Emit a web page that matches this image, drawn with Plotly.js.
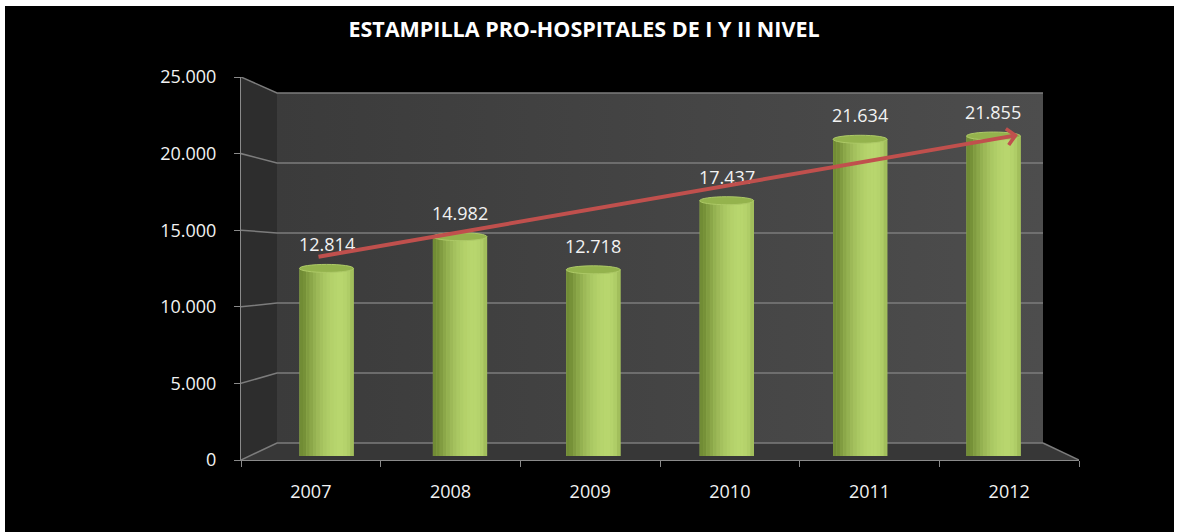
<!DOCTYPE html>
<html>
<head>
<meta charset="utf-8">
<script src="https://cdn.plot.ly/plotly-3.0.1.min.js"></script>
<style>html,body{margin:0;padding:0;background:#fff;}#chart{width:1177px;height:532px;}</style>
</head>
<body>
<div id="chart"></div>
<script>
// ---- data ----
const years = ['2007', '2008', '2009', '2010', '2011', '2012'];
const values = [12814, 14982, 12718, 17437, 21634, 21855];
const yTickValues = [0, 5000, 10000, 15000, 20000, 25000];
const chartTitle = 'ESTAMPILLA PRO-HOSPITALES DE I Y II NIVEL';

// ---- geometry (pixels) ----
const W = 1177, H = 532;
const L = 241, R = 1079, T = 77, B = 460;          // front plane (plot area)
const bL = 277, bR = 1043, bT = 93, bB = 443;      // back wall
const yMax = 25000;
const font = '"Open Sans", sans-serif';
const txtCol = '#f2f2f2';
const axCol = '#8a8a8a';

const frontY = v => B - v * (B - T) / yMax;
const backY = v => bB - v * (bB - bT) / yMax;
const px2paperX = p => (p - L) / (R - L);
const px2paperY = p => (B - p) / (B - T);

const traces = [];
// side wall
traces.push({type: 'scatter', mode: 'lines', xaxis: 'x', yaxis: 'y',
  x: [L, bL, bL, L, L], y: [T, bT, bB, B, T], fill: 'toself',
  fillcolor: '#2d2d2d', line: {width: 0}, hoverinfo: 'skip', showlegend: false, cliponaxis: false});
// back wall
traces.push({type: 'scatter', mode: 'lines', xaxis: 'x', yaxis: 'y',
  x: [bL, bR, bR, bL, bL], y: [bT, bT, bB, bB, bT], fill: 'toself',
  fillcolor: '#454545',
  fillgradient: {type: 'horizontal', colorscale: [[0, '#3b3b3b'], [1, '#4d4d4d']]},
  line: {width: 0}, hoverinfo: 'skip', showlegend: false, cliponaxis: false});
// floor
traces.push({type: 'scatter', mode: 'lines', xaxis: 'x', yaxis: 'y',
  x: [L, bL, bR, R, L], y: [B, bB, bB, B, B], fill: 'toself',
  fillcolor: '#373737', line: {width: 0}, hoverinfo: 'skip', showlegend: false, cliponaxis: false});
// gridlines (front tick -> back wall)
const gx = [], gy = [];
yTickValues.forEach(v => {
  gx.push(L, bL, bR, null);
  gy.push(frontY(v), backY(v), backY(v), null);
});
traces.push({type: 'scatter', mode: 'lines', xaxis: 'x', yaxis: 'y', x: gx, y: gy,
  line: {color: '#7c7c7c', width: 1.5}, hoverinfo: 'skip', showlegend: false, cliponaxis: false});
// floor right edge
traces.push({type: 'scatter', mode: 'lines', xaxis: 'x', yaxis: 'y', x: [bR, R], y: [bB, B],
  line: {color: '#7c7c7c', width: 1.5}, hoverinfo: 'skip', showlegend: false, cliponaxis: false});

// ---- cylinder bars (x2/y2) ----
const barW = 0.405;
const N = 16;
const dark = [98, 124, 40], light = [184, 214, 110];
function shade(t) {
  const phi = Math.asin(Math.max(-1, Math.min(1, t)));
  let f = Math.max(0, Math.cos(phi - 0.5));
  f = 0.18 + 0.82 * Math.pow(f, 1.3);
  const c = dark.map((d, k) => Math.round(d + (light[k] - d) * f));
  return 'rgb(' + c.join(',') + ')';
}
traces.push({type: 'bar', xaxis: 'x2', yaxis: 'y2', x: years, y: values, width: barW,
  marker: {color: shade(0), line: {width: 0}}, hoverinfo: 'skip', showlegend: false});
for (let k = 0; k < N; k++) {
  const t = -1 + (2 * k + 1) / N;
  traces.push({type: 'bar', xaxis: 'x2', yaxis: 'y2', x: years, y: values,
    width: barW / N + 0.002, offset: -barW / 2 + k * barW / N,
    marker: {color: shade(t), line: {width: 0}}, hoverinfo: 'skip', showlegend: false});
}

// ---- visible front axes (x3/y3) ----
traces.push({type: 'scatter', mode: 'markers', xaxis: 'x3', yaxis: 'y3', x: years, y: values,
  marker: {opacity: 0}, hoverinfo: 'skip', showlegend: false});

// bar axis mapping: bar centres and base
const bxr0 = -0.641, bxr1 = 5.641;
const byr0 = -273, byr1 = 25888;
const pxPerUnit = (B - T) / (byr1 - byr0);
const capHalf = 4 / pxPerUnit;

const shapes = [{
  type: 'rect', xref: 'paper', yref: 'paper', layer: 'below',
  x0: px2paperX(5), x1: px2paperX(1174), y0: px2paperY(6), y1: px2paperY(H + 2),
  fillcolor: '#000', line: {width: 0}
}];
values.forEach((v, i) => {
  shapes.push({type: 'circle', xref: 'x2', yref: 'y2', layer: 'above',
    x0: i - barW / 2, x1: i + barW / 2, y0: v - capHalf, y1: v + capHalf,
    fillcolor: '#94b34d', line: {color: '#adc967', width: 1}});
});

const fmt = v => String(v).replace(/\B(?=(\d{3})+(?!\d))/g, '.');
const annotations = values.map((v, i) => ({
  xref: 'x2', yref: 'y2', x: i, y: v, text: fmt(v), showarrow: false,
  yanchor: 'bottom', xanchor: 'center', yshift: 10,
  font: {family: font, size: 18, color: txtCol}
}));
// trend arrow
annotations.push({
  xref: 'x', yref: 'y', axref: 'x', ayref: 'y', x: 1018, y: 135, ax: 317, ay: 257,
  text: '', showarrow: true, arrowcolor: '#c0504d', arrowwidth: 4, arrowhead: 4,
  arrowsize: 0.8, standoff: 0, startstandoff: 0
});

const hidden = {visible: false, showgrid: false, zeroline: false, fixedrange: true};
const layout = {
  width: W, height: H,
  paper_bgcolor: '#ffffff', plot_bgcolor: '#000000',
  margin: {l: L, r: W - R, t: T, b: H - B, pad: 0},
  separators: ',.',
  barmode: 'overlay',
  hovermode: false,
  showlegend: false,
  title: {
    text: '<b>' + chartTitle + '</b>',
    font: {family: font, size: 21.5, color: '#ffffff'},
    x: 584 / W, xref: 'container', xanchor: 'center',
    y: 1 - 29 / H, yref: 'container', yanchor: 'middle'
  },
  xaxis: Object.assign({}, hidden, {range: [L, R], autorange: false}),
  yaxis: Object.assign({}, hidden, {range: [B, T], autorange: false}),
  xaxis2: Object.assign({}, hidden, {type: 'category', overlaying: 'x', range: [bxr0, bxr1], autorange: false}),
  yaxis2: Object.assign({}, hidden, {overlaying: 'y', range: [byr0, byr1], autorange: false}),
  xaxis3: {
    overlaying: 'x', type: 'category', range: [-0.5, 5.5], autorange: false,
    tickson: 'boundaries', ticks: 'outside', ticklen: 6, tickcolor: axCol, tickwidth: 1,
    showline: true, linecolor: axCol, linewidth: 1, showgrid: false, zeroline: false,
    tickfont: {family: font, size: 18, color: txtCol}, ticklabelstandoff: 15, fixedrange: true
  },
  yaxis3: {
    overlaying: 'y', side: 'left', range: [0, yMax], autorange: false,
    tickmode: 'array', tickvals: yTickValues, tickformat: ',d',
    ticks: 'outside', ticklen: 6, tickcolor: axCol, tickwidth: 1,
    showline: true, linecolor: axCol, linewidth: 1, showgrid: false, zeroline: false,
    tickfont: {family: font, size: 18, color: txtCol}, ticklabelstandoff: 14, fixedrange: true
  },
  shapes: shapes,
  annotations: annotations
};

Plotly.newPlot('chart', traces, layout, {staticPlot: true, displayModeBar: false});
</script>
</body>
</html>
